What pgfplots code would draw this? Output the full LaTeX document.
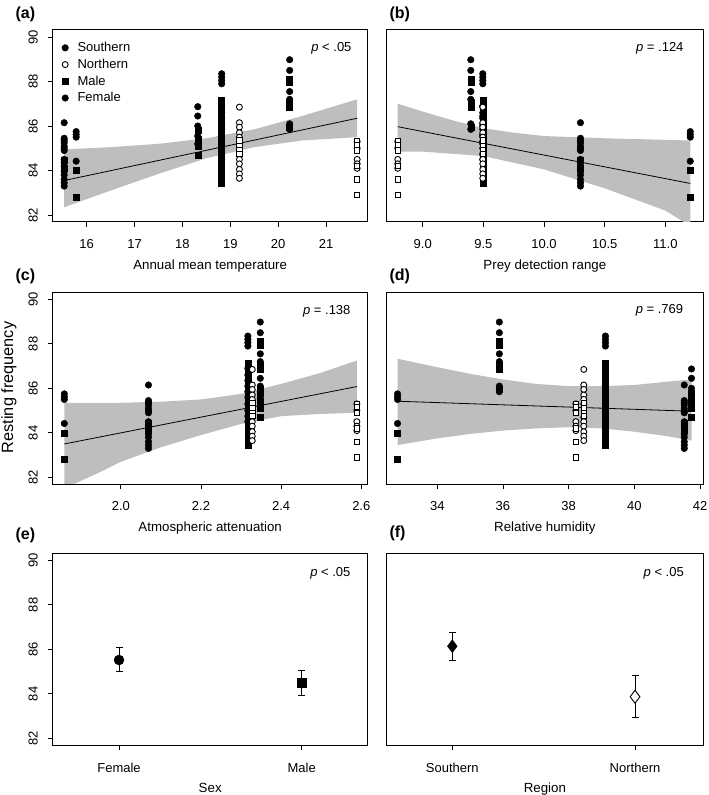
\documentclass[border=0pt]{standalone}
\usepackage{pgfplots}
\pgfplotsset{compat=1.18}
\usepackage{pgfplotstable}
\usepackage{fontspec}
\setmainfont{Liberation Sans}
\definecolor{bandgray}{RGB}{190,190,190}

% Southern female
\pgfplotstableread{
T PDR AA RH y
15.53 10.30 2.069 41.52 86.15
15.53 10.30 2.069 41.52 85.45
15.53 10.30 2.069 41.52 85.35
15.53 10.30 2.069 41.52 85.25
15.53 10.30 2.069 41.52 85.10
15.53 10.30 2.069 41.52 85.00
15.53 10.30 2.069 41.52 84.90
15.53 10.30 2.069 41.52 84.50
15.53 10.30 2.069 41.52 84.35
15.53 10.30 2.069 41.52 84.20
15.53 10.30 2.069 41.52 83.95
15.53 10.30 2.069 41.52 83.80
15.53 10.30 2.069 41.52 83.60
15.53 10.30 2.069 41.52 83.45
15.53 10.30 2.069 41.52 83.30
15.78 11.205 1.859 32.79 85.75
15.78 11.205 1.859 32.79 85.62
15.78 11.205 1.859 32.79 85.50
15.78 11.205 1.859 32.79 84.42
18.32 9.495 2.348 41.74 86.87
18.32 9.495 2.348 41.74 86.45
18.32 9.495 2.348 41.74 86.00
18.32 9.495 2.348 41.74 85.55
18.32 9.495 2.348 41.74 85.20
18.82 9.495 2.317 39.12 88.35
18.82 9.495 2.317 39.12 88.20
18.82 9.495 2.317 39.12 88.05
18.82 9.495 2.317 39.12 87.90
18.82 9.495 2.317 39.12 86.90
18.82 9.495 2.317 39.12 86.60
18.82 9.495 2.317 39.12 86.35
18.82 9.495 2.317 39.12 86.10
18.82 9.495 2.317 39.12 85.85
18.82 9.495 2.317 39.12 85.60
18.82 9.495 2.317 39.12 85.30
18.82 9.495 2.317 39.12 85.00
18.82 9.495 2.317 39.12 84.75
18.82 9.495 2.317 39.12 84.50
20.24 9.396 2.348 35.89 88.98
20.24 9.396 2.348 35.89 88.50
20.24 9.396 2.348 35.89 87.55
20.24 9.396 2.348 35.89 87.20
20.24 9.396 2.348 35.89 86.10
20.24 9.396 2.348 35.89 85.85
}\SF

% Southern male
\pgfplotstableread{
T PDR AA RH y
15.53 10.30 2.069 41.52 84.45
15.53 10.30 2.069 41.52 84.10
15.78 11.205 1.859 32.79 84.00
15.78 11.205 1.859 32.79 82.80
18.32 9.495 2.348 41.74 85.80
18.32 9.495 2.348 41.74 85.40
18.32 9.495 2.348 41.74 85.10
18.32 9.495 2.348 41.74 84.70
18.82 9.495 2.317 39.12 87.15
18.82 9.495 2.317 39.12 87.00
18.82 9.495 2.317 39.12 86.80
18.82 9.495 2.317 39.12 86.55
18.82 9.495 2.317 39.12 86.25
18.82 9.495 2.317 39.12 86.00
18.82 9.495 2.317 39.12 85.75
18.82 9.495 2.317 39.12 85.50
18.82 9.495 2.317 39.12 85.25
18.82 9.495 2.317 39.12 84.95
18.82 9.495 2.317 39.12 84.70
18.82 9.495 2.317 39.12 84.50
18.82 9.495 2.317 39.12 84.20
18.82 9.495 2.317 39.12 84.00
18.82 9.495 2.317 39.12 83.72
18.82 9.495 2.317 39.12 83.45
20.24 9.396 2.348 35.89 88.10
20.24 9.396 2.348 35.89 87.95
20.24 9.396 2.348 35.89 87.05
20.24 9.396 2.348 35.89 86.85
20.24 9.396 2.348 35.89 85.95
}\SM

% Northern female
\pgfplotstableread{
T PDR AA RH y
19.19 9.495 2.328 38.46 86.85
19.19 9.495 2.328 38.46 86.15
19.19 9.495 2.328 38.46 85.95
19.19 9.495 2.328 38.46 85.70
19.19 9.495 2.328 38.46 85.50
19.19 9.495 2.328 38.46 85.30
19.19 9.495 2.328 38.46 84.70
19.19 9.495 2.328 38.46 84.50
19.19 9.495 2.328 38.46 84.30
19.19 9.495 2.328 38.46 84.05
19.19 9.495 2.328 38.46 83.85
19.19 9.495 2.328 38.46 83.65
21.65 8.794 2.589 38.22 85.30
21.65 8.794 2.589 38.22 85.00
21.65 8.794 2.589 38.22 84.50
21.65 8.794 2.589 38.22 84.30
21.65 8.794 2.589 38.22 84.10
}\NF

% Northern male
\pgfplotstableread{
T PDR AA RH y
19.19 9.495 2.328 38.46 85.35
19.19 9.495 2.328 38.46 85.10
19.19 9.495 2.328 38.46 84.90
19.19 9.495 2.328 38.46 84.75
21.65 8.794 2.589 38.22 85.30
21.65 8.794 2.589 38.22 85.15
21.65 8.794 2.589 38.22 84.90
21.65 8.794 2.589 38.22 84.20
21.65 8.794 2.589 38.22 83.60
21.65 8.794 2.589 38.22 82.90
}\NM

\tikzset{
  pval/.style={anchor=base east, font=\fontsize{13}{15}\selectfont},
  plabel/.style={anchor=west, font=\bfseries\fontsize{16}{18}\selectfont},
}

\pgfplotsset{
  panel/.style={
    anchor=south west, scale only axis, width=315pt, height=192pt,
    ymin=81.7, ymax=90.33, ytick={82,84,86,88,90},
    tick align=outside, xtick pos=bottom, ytick pos=left,
    major tick length=5pt,
    tick style={black, line width=0.7pt},
    axis line style={black, line width=0.8pt},
    /pgf/number format/assume math mode=true,
    yticklabel style={rotate=90, anchor=base, font=\fontsize{13}{15}\selectfont},
    yticklabel shift=10pt,
    xticklabel style={anchor=base, font=\fontsize{13}{15}\selectfont},
    xticklabel shift=22pt,
    xlabel style={at={(axis description cs:0.5,0)}, anchor=base, yshift=-47.5pt, font=\fontsize{13.3}{15}\selectfont},
  },
  right panel/.style={ytick=\empty},
  sf/.style={only marks, mark=*, mark size=3.3pt, mark options={draw=black, fill=black}},
  sm/.style={only marks, mark=square*, mark size=3pt, mark options={draw=black, fill=black}},
  nf/.style={only marks, mark=*, mark size=3pt, mark options={draw=black, fill=white, line width=0.9pt}},
  nm/.style={only marks, mark=square*, mark size=2.7pt, mark options={draw=black, fill=white, line width=0.9pt}},
  band/.style={fill=bandgray, draw=none},
  fit/.style={black, line width=0.8pt},
  ebar/.style={error bars/.cd, y dir=both, y explicit,
    error bar style={line width=0.8pt, black},
    error mark options={rotate=90, line width=0.8pt, mark size=3.5pt, black}},
}

\begin{document}
\begin{tikzpicture}
\path[use as bounding box] (0,0) rectangle (709pt,795pt);

% (a)
\begin{axis}[panel, at={(52.7pt,573.3pt)},
  xmin=15.29, xmax=21.87, xtick={16,17,18,19,20,21},
  xlabel={Annual mean temperature},
  legend style={at={(rel axis cs:0,1)}, anchor=north west, draw=none, fill=none,
    font=\fontsize{13}{15}\selectfont, row sep=1.8pt, xshift=6pt, yshift=-8.5pt,
    /tikz/every odd column/.append style={column sep=7pt}},
  legend cell align=left]
\addlegendimage{sf}
\addlegendimage{nf}
\addlegendimage{sm}
\addlegendimage{sf}
\legend{Southern, Northern, Male, Female}
\addplot[band] coordinates {(15.53,84.95) (16.5,85.05) (17.5,85.2) (18.5,85.45) (19.5,85.85) (20.5,86.45) (21.65,87.2)
  (21.65,85.5) (20.5,85.35) (19.5,85.05) (18.5,84.55) (17.5,83.85) (16.5,83.1) (15.53,82.35)} -- cycle;
\addplot[fit] coordinates {(15.53,83.55) (21.65,86.35)};
\addplot[sf] table[x=T, y=y] {\SF};
\addplot[sm] table[x=T, y=y] {\SM};
\addplot[nf] table[x=T, y=y] {\NF};
\addplot[nm] table[x=T, y=y] {\NM};
\node[pval] at (rel axis cs:1,1) [xshift=-12.7pt, yshift=-21.4pt] {\textit{p} < .05};
\end{axis}

% (b)
\begin{axis}[panel, right panel, at={(386.7pt,573.3pt)}, width=316.3pt,
  xmin=8.703, xmax=11.31, xtick={9,9.5,10,10.5,11},
  xticklabel style={/pgf/number format/.cd, fixed, fixed zerofill, precision=1},
  xlabel={Prey detection range}]
\addplot[band] coordinates {(8.794,87.0) (9.0,86.65) (9.25,86.25) (9.5,85.9) (9.75,85.7) (10.0,85.55) (10.5,85.45) (11.205,85.35)
  (11.205,81.5) (11.0,82.2) (10.5,83.2) (10.0,84.05) (9.5,84.65) (9.0,84.85) (8.794,84.85)} -- cycle;
\addplot[fit] coordinates {(8.794,85.97) (11.205,83.42)};
\addplot[sf] table[x=PDR, y=y] {\SF};
\addplot[sm] table[x=PDR, y=y] {\SM};
\addplot[nf] table[x=PDR, y=y] {\NF};
\addplot[nm] table[x=PDR, y=y] {\NM};
\node[pval] at (rel axis cs:1,1) [xshift=-16pt, yshift=-21.4pt] {\textit{p} = .124};
\end{axis}

% (c)
\begin{axis}[panel, at={(52.7pt,311pt)},
  xmin=1.830, xmax=2.616, xtick={2.0,2.2,2.4,2.6},
  xticklabel style={/pgf/number format/.cd, fixed, fixed zerofill, precision=1},
  xlabel={Atmospheric attenuation}]
\addplot[band] coordinates {(1.859,85.35) (2.0,85.35) (2.1,85.4) (2.2,85.5) (2.3,85.75) (2.4,86.2) (2.5,86.7) (2.589,87.25)
  (2.589,84.9) (2.5,84.85) (2.4,84.75) (2.3,84.4) (2.2,83.9) (2.1,83.35) (2.0,82.7) (1.95,82.25) (1.859,81.5)} -- cycle;
\addplot[fit] coordinates {(1.859,83.5) (2.589,86.08)};
\addplot[sf] table[x=AA, y=y] {\SF};
\addplot[sm] table[x=AA, y=y] {\SM};
\addplot[nf] table[x=AA, y=y] {\NF};
\addplot[nm] table[x=AA, y=y] {\NM};
\node[pval] at (rel axis cs:1,1) [xshift=-13.7pt, yshift=-22pt] {\textit{p} = .138};
\end{axis}

% (d)
\begin{axis}[panel, right panel, at={(386.7pt,311pt)}, width=316.3pt,
  xmin=32.46, xmax=42.09, xtick={34,36,38,40,42},
  xlabel={Relative humidity}]
\addplot[band] coordinates {(32.79,87.33) (34,86.95) (35,86.65) (36,86.4) (37,86.2) (38,86.1) (39,86.1) (40,86.15) (41,86.3) (41.74,86.4)
  (41.74,83.65) (41,83.85) (40,84.05) (39,84.2) (38,84.25) (37,84.2) (36,84.1) (35,83.95) (34,83.75) (32.79,83.45)} -- cycle;
\addplot[fit] coordinates {(32.79,85.42) (41.74,84.97)};
\addplot[sf] table[x=RH, y=y] {\SF};
\addplot[sm] table[x=RH, y=y] {\SM};
\addplot[nf] table[x=RH, y=y] {\NF};
\addplot[nm] table[x=RH, y=y] {\NM};
\node[pval] at (rel axis cs:1,1) [xshift=-16.3pt, yshift=-21.4pt] {\textit{p} = .769};
\end{axis}

% (e)
\begin{axis}[panel, at={(52.7pt,50pt)},
  xmin=0.637, xmax=2.361, xtick={1,2}, xticklabels={Female, Male},
  xlabel={Sex}]
\addplot[only marks, mark=*, mark size=5pt, mark options={fill=black, draw=black}, ebar]
  coordinates {(1,85.52) += (0,0.55) -= (0,0.53)};
\addplot[only marks, mark=square*, mark size=4.3pt, mark options={fill=black, draw=black}, ebar]
  coordinates {(2,84.50) += (0,0.55) -= (0,0.55)};
\node[pval] at (rel axis cs:1,1) [xshift=-13.7pt, yshift=-23.5pt] {\textit{p} < .05};
\end{axis}

% (f)
\begin{axis}[panel, right panel, at={(386.7pt,50pt)}, width=316.3pt,
  xmin=0.641, xmax=2.372, xtick={1,2}, xticklabels={Southern, Northern},
  xlabel={Region}]
\addplot[only marks, mark=diamond*, mark size=6.5pt, mark options={fill=black, draw=black}, ebar]
  coordinates {(1,86.14) += (0,0.62) -= (0,0.62)};
\addplot[only marks, mark=diamond*, mark size=6.5pt, mark options={fill=white, draw=black, line width=0.9pt}, ebar]
  coordinates {(2,83.87) += (0,0.96) -= (0,0.92)};
\node[pval] at (rel axis cs:1,1) [xshift=-15.7pt, yshift=-23.5pt] {\textit{p} < .05};
\end{axis}

% panel letters and shared y label
\node[plabel] at (12pt,781pt) {(a)};
\node[plabel] at (386pt,781pt) {(b)};
\node[plabel] at (12pt,518.3pt) {(c)};
\node[plabel] at (386pt,518.3pt) {(d)};
\node[plabel] at (12pt,260pt) {(e)};
\node[plabel] at (386pt,262pt) {(f)};
\node[rotate=90, font=\fontsize{16.3}{18}\selectfont] at (9pt,407.5pt) {Resting frequency};
\end{tikzpicture}
\end{document}
